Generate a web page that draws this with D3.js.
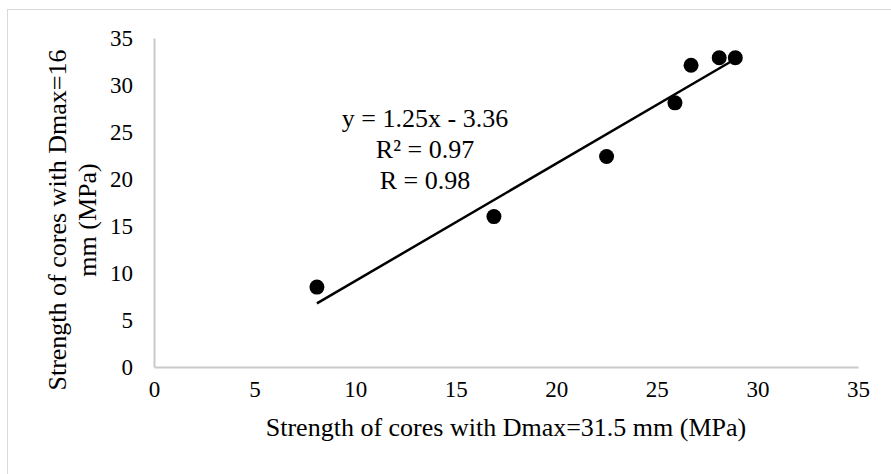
<!DOCTYPE html>
<html>
<head>
<meta charset="utf-8">
<script src="https://cdn.jsdelivr.net/npm/d3@7"></script>
<style>
  html, body { margin: 0; padding: 0; background: #fff; }
  svg { display: block; }
  svg text { font-family: "Liberation Serif", "Times New Roman", serif; }
</style>
</head>
<body>
<svg id="chart" width="891" height="474"></svg>
<script>
// Core strengths (MPa): Dmax = 31.5 mm vs Dmax = 16 mm
const strength315 = [8.1, 16.9, 22.5, 25.9, 26.7, 28.1, 28.9];
const strength16  = [8.5, 16.0, 22.4, 28.1, 32.1, 32.9, 32.9];

const xTicks = [0, 5, 10, 15, 20, 25, 30, 35];
const yTicks = [0, 5, 10, 15, 20, 25, 30, 35];

// Linear fit reported on the chart
const slope = 1.25;
const intercept = -3.36;
const fitLabels = ["y = 1.25x - 3.36", "R\u00B2 = 0.97", "R = 0.98"];

const xTitle = "Strength of cores with Dmax=31.5 mm (MPa)";
const yTitleLines = ["Strength of cores with Dmax=16", "mm (MPa)"];

const serif = "'Liberation Serif', 'Times New Roman', serif";
const svg = d3.select("#chart");
const W = 891, H = 474;
const plot = { left: 154, right: 858, top: 38, bottom: 367 };

// Outer chart frame
svg.append("rect")
  .attr("x", 7.5).attr("y", 9.5)
  .attr("width", W + 10).attr("height", H + 10)
  .attr("fill", "none").attr("stroke", "#d9d9d9").attr("stroke-width", 1);

const x = d3.scaleLinear().domain([0, 35]).range([plot.left, plot.right]);
const y = d3.scaleLinear().domain([0, 35]).range([plot.bottom, plot.top]);

// Axes: light grey lines, no tick marks
const xAxis = svg.append("g")
  .attr("transform", `translate(0,${plot.bottom})`)
  .call(d3.axisBottom(x).tickValues(xTicks).tickSize(0).tickPadding(14));
const yAxis = svg.append("g")
  .attr("transform", `translate(${plot.left},0)`)
  .call(d3.axisLeft(y).tickValues(yTicks).tickSize(0).tickPadding(21));

[xAxis, yAxis].forEach(g => {
  g.attr("font-family", serif).attr("font-size", 23);
  g.select(".domain").attr("stroke", "#c9c9c9").attr("stroke-width", 2);
  g.selectAll("text").attr("fill", "#000");
});
xAxis.selectAll("text").attr("dy", "0.71em");

// Trendline across the observed range
const xmin = d3.min(strength315), xmax = d3.max(strength315);
svg.append("line")
  .attr("x1", x(xmin)).attr("y1", y(slope * xmin + intercept))
  .attr("x2", x(xmax)).attr("y2", y(slope * xmax + intercept))
  .attr("stroke", "#000").attr("stroke-width", 2.5);

// Data points
svg.append("g").selectAll("circle")
  .data(strength315.map((v, i) => [v, strength16[i]]))
  .join("circle")
  .attr("cx", d => x(d[0]))
  .attr("cy", d => y(d[1]))
  .attr("r", 7.5)
  .attr("fill", "#000");

// Fit annotation
svg.append("g")
  .attr("font-family", serif).attr("font-size", 26)
  .selectAll("text")
  .data(fitLabels)
  .join("text")
  .attr("x", 425)
  .attr("y", (d, i) => 127 + i * 31)
  .attr("text-anchor", "middle")
  .text(d => d);

// Axis titles
svg.append("text")
  .attr("x", (plot.left + plot.right) / 2)
  .attr("y", 436)
  .attr("text-anchor", "middle")
  .attr("font-family", serif).attr("font-size", 26)
  .text(xTitle);

const yTitle = svg.append("text")
  .attr("transform", "translate(0,220) rotate(-90)")
  .attr("text-anchor", "middle")
  .attr("font-family", serif).attr("font-size", 26);
yTitle.selectAll("tspan")
  .data(yTitleLines)
  .join("tspan")
  .attr("x", 0)
  .attr("y", (d, i) => 66 + i * 30)
  .text(d => d);
</script>
</body>
</html>
